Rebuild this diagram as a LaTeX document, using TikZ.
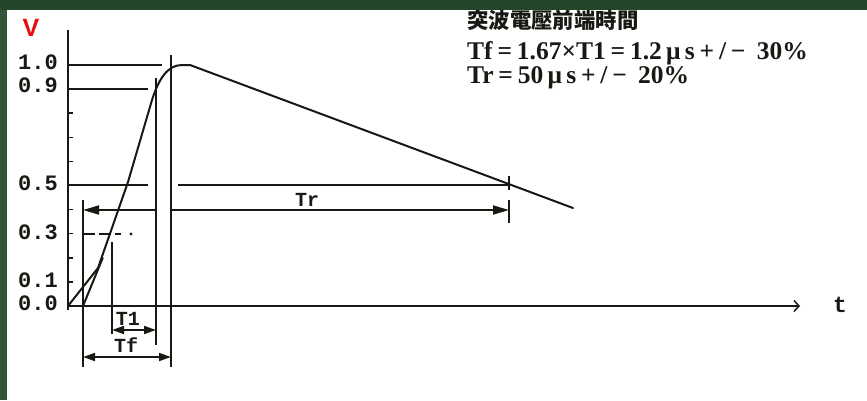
\documentclass[tikz,border=0pt]{standalone}
\usepackage{fontspec}
\setmainfont{Liberation Serif}
\newfontfamily\cjk{Noto Sans CJK TC}
\newfontfamily\monof{Liberation Mono}
\newfontfamily\sansf{Liberation Sans}
\usetikzlibrary{arrows.meta}
\definecolor{ink}{RGB}{25,25,20}
\definecolor{bggreen}{RGB}{48,88,56}
\definecolor{topgreen}{RGB}{38,70,44}
\definecolor{vred}{RGB}{235,10,10}
\newcommand{\fw}[1]{\makebox[0.95em]{#1}}
\tikzset{
  ln/.style={draw=ink, line width=1.5pt},
  wave/.style={draw=ink, line width=2pt, line join=round, line cap=round},
  dimline/.style={draw=ink, line width=1.8pt},
  tipL/.style={{Triangle[length=16pt,width=9pt]}-},
  tipR/.style={-{Triangle[length=16pt,width=9pt]}},
  tipLR/.style={{Triangle[length=12pt,width=8pt]}-{Triangle[length=12pt,width=8pt]}},
  ylbl/.style={font=\monof\bfseries\fontsize{22}{22}\selectfont, text=ink, inner sep=0, anchor=east},
  dlbl/.style={font=\monof\bfseries\fontsize{20}{20}\selectfont, text=ink, inner sep=0},
  note/.style={font=\bfseries\fontsize{25.5}{25.5}\selectfont, text=ink, inner sep=0, anchor=west},
}
\begin{document}
\begin{tikzpicture}[x=1pt,y=-1pt]
\useasboundingbox (0,0) rectangle (867,400);
\fill[bggreen] (0,0) rectangle (867,400);
\fill[topgreen] (0,0) rectangle (867,10);
\fill[white] (7,10) rectangle (867,400);

% label V
\node[font=\sansf\bfseries\fontsize{25}{25}\selectfont, text=vred, inner sep=0] (vlab) at (31,28) {V};

% axes
\coordinate (O) at (68,306);
\coordinate (ytop) at (68,30);
\coordinate (ybot) at (68,310);
\coordinate (xend) at (800,306);
\draw[ln] (ytop) -- (ybot);
\draw[ln, -{Straight Barb[length=5pt,width=11pt]}] (O) -- (xend);
\node[dlbl, font=\monof\bfseries\fontsize{23}{23}\selectfont] (tlab) at (840,305) {t};

% ticks every 0.1
\foreach \k in {1,...,8} {
  \draw[ln] (68,306-24.1*\k) -- (73,306-24.1*\k);
}

% y labels
\node[ylbl] (l10) at (58,62) {1.0};
\node[ylbl] (l09) at (58,85) {0.9};
\node[ylbl] (l05) at (58,183) {0.5};
\node[ylbl] (l03) at (58,232) {0.3};
\node[ylbl] (l01) at (58,280) {0.1};
\node[ylbl] (l00) at (58,303) {0.0};

% level lines
\draw[ink, line width=2.5pt] (68,65) -- (162,65);
\draw[ln] (68,89) -- (148,89);
\draw[ln] (68,185) -- (148,185);
\draw[ln] (178,185) -- (510,185);
\draw[ln, dash pattern=on 12pt off 4pt] (83,234) -- (121,234);
\fill[ink] (131,234) circle (1.6pt);

% vertical reference lines
\coordinate (v83t) at (83,200);  \coordinate (v83b) at (83,367);
\coordinate (v112t) at (112,242); \coordinate (v112b) at (112,334);
\coordinate (v156t) at (156,78); \coordinate (v156b) at (156,345);
\coordinate (v171t) at (171,55); \coordinate (v171b) at (171,367);
\draw[ln] (v83t) -- (v83b);
\draw[ln] (v112t) -- (v112b);
\draw[ln] (v156t) -- (v156b);
\draw[ln] (v171t) -- (v171b);
\draw[ln] (509,176) -- (509,190);
\draw[ln] (509,200) -- (509,223);

% waveform
\draw[wave] (O) -- (98,268) -- (128,182) -- (152,100)
  .. controls (159,78) and (168,65) .. (182,65) -- (190,65) -- (573,208);
% virtual front line
\draw[wave] (83,306) -- (102.7,258);

% dimension lines
\draw[dimline, tipL] (83,210) -- (156,210);
\draw[dimline, tipR] (171,210) -- (509,210);
\node[dlbl] (trlab) at (307,200) {Tr};
\draw[dimline, tipLR] (112,330) -- (156,330);
\node[dlbl] (t1lab) at (128,319) {T1};
\draw[dimline, tipLR] (83,357) -- (171,357);
\node[dlbl] (tflab) at (126,345) {Tf};

% notes
\node[font=\cjk\bfseries\fontsize{21.4}{21.4}\selectfont, text=ink, inner sep=0, anchor=west] (title) at (467,20) {突波電壓前端時間};
\node[note] (tfnote) at (467,53) {Tf\fw{=}1.67×T1\fw{=}1.2\,μ\,s\fw{+}/\fw{−} 30\%};
\node[note] (trnote) at (467,78) {Tr\fw{=}50\,μ\,s\fw{+}/\fw{−} 20\%};
\end{tikzpicture}
\end{document}
